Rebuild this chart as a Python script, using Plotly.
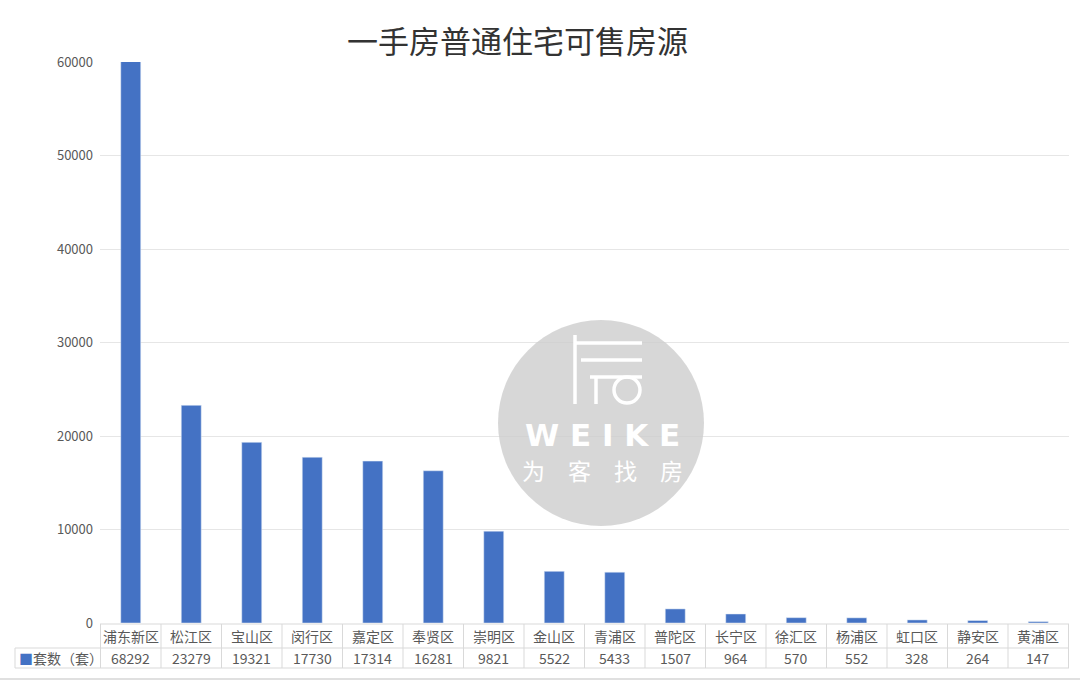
import plotly.graph_objects as go

# data
districts = ["浦东新区", "松江区", "宝山区", "闵行区", "嘉定区", "奉贤区", "崇明区", "金山区",
             "青浦区", "普陀区", "长宁区", "徐汇区", "杨浦区", "虹口区", "静安区", "黄浦区"]
units = [68292, 23279, 19321, 17730, 17314, 16281, 9821, 5522,
         5433, 1507, 964, 570, 552, 328, 264, 147]
series_name = "套数（套）"
title_text = "一手房普通住宅可售房源"
y_ticks = [0, 10000, 20000, 30000, 40000, 50000, 60000]

BLUE = "#4472C4"
GRID = "#e6e6e6"
LINE = "#d9d9d9"
TXT = "#595959"
FONT = "Noto Sans CJK SC"

W, H = 1080, 680
ML, MR, MT, MB = 100, 11, 62, 57
PW, PH = W - ML - MR, H - MT - MB


def px_x(p):
    # pixel -> paper x
    return (p - ML) / PW


def px_y(p):
    # pixel -> paper y
    return (H - MB - p) / PH


fig = go.Figure()
fig.add_trace(go.Bar(x=districts, y=units, marker_color=BLUE, name=series_name))

# title
fig.add_annotation(text=title_text, xref="paper", yref="paper", x=px_x(517), y=px_y(40),
                   xanchor="center", yanchor="middle", showarrow=False,
                   font=dict(family=FONT, size=31, color="#333333"))

# data table under the axis
row1, row2 = px_y(636), px_y(658)
for name, val in zip(districts, units):
    fig.add_annotation(text=name, x=name, xref="x", yref="paper", y=row1, showarrow=False,
                       xanchor="center", yanchor="middle",
                       font=dict(family=FONT, size=14, color=TXT))
    fig.add_annotation(text=str(val), x=name, xref="x", yref="paper", y=row2, showarrow=False,
                       xanchor="center", yanchor="middle",
                       font=dict(family=FONT, size=14, color=TXT))
fig.add_annotation(text="<span style='color:%s'>■</span>%s" % (BLUE, series_name),
                   xref="paper", yref="paper", x=px_x(17), y=row2, xanchor="left", yanchor="middle",
                   showarrow=False, font=dict(family=FONT, size=14, color=TXT))

t_top, t_mid, t_bot = px_y(624), px_y(648), px_y(668)
shapes = []
shapes.append(dict(type="line", xref="paper", yref="paper", x0=0, x1=1, y0=t_top, y1=t_top,
                   line=dict(color=LINE, width=1)))
for yy in (t_mid, t_bot):
    shapes.append(dict(type="line", xref="paper", yref="paper", x0=px_x(15), x1=1, y0=yy, y1=yy,
                       line=dict(color=LINE, width=1)))
for i in range(len(districts) + 1):
    shapes.append(dict(type="line", xref="x", yref="paper", x0=i - 0.5, x1=i - 0.5, y0=t_top, y1=t_bot,
                       line=dict(color=LINE, width=1)))
shapes.append(dict(type="line", xref="paper", yref="paper", x0=px_x(15), x1=px_x(15), y0=t_mid, y1=t_bot,
                   line=dict(color=LINE, width=1)))
# gray rule at very bottom of picture
shapes.append(dict(type="line", xref="paper", yref="paper", x0=px_x(0), x1=px_x(W), y0=px_y(679), y1=px_y(679),
                   line=dict(color="#e0e0e0", width=2)))

# watermark circle + logo
cx, cy, r = 601, 423, 103
shapes.append(dict(type="circle", xref="paper", yref="paper", x0=px_x(cx - r), x1=px_x(cx + r),
                   y0=px_y(cy + r), y1=px_y(cy - r), fillcolor="rgba(205,205,205,0.8)",
                   line=dict(width=0), layer="above"))
wm = dict(color="white", width=3.5)
logo_lines = [
    (575, 335, 575, 404),
    (575, 343, 642, 343),
    (581, 360, 642, 360),
    (590, 377, 642, 377),
    (596, 377, 596, 404),
]
for x0, y0, x1, y1 in logo_lines:
    shapes.append(dict(type="line", xref="paper", yref="paper", x0=px_x(x0), x1=px_x(x1),
                       y0=px_y(y0), y1=px_y(y1), line=wm, layer="above"))
shapes.append(dict(type="circle", xref="paper", yref="paper", x0=px_x(614), x1=px_x(640),
                   y0=px_y(403), y1=px_y(377), line=wm, layer="above"))
fig.add_annotation(text="<b>W E I K E</b>", xref="paper", yref="paper", x=px_x(602), y=px_y(435),
                   xanchor="center", yanchor="middle",
                   showarrow=False, font=dict(family="DejaVu Sans", size=31, color="white"))
fig.add_annotation(text="为　客　找　房", xref="paper", yref="paper", x=px_x(602), y=px_y(470),
                   xanchor="center", yanchor="middle",
                   showarrow=False, font=dict(family=FONT, size=23, color="white"))

fig.update_layout(
    width=W, height=H,
    margin=dict(l=ML, r=MR, t=MT, b=MB),
    plot_bgcolor="white", paper_bgcolor="white",
    showlegend=False, bargap=0.67,
    shapes=shapes,
    font=dict(family=FONT, color=TXT),
)
fig.update_xaxes(showticklabels=False, showgrid=False, zeroline=False, showline=False)
fig.update_yaxes(range=[0, 60000], tickvals=y_ticks, tickformat="d", showgrid=True, gridcolor=GRID,
                 zeroline=False, tickfont=dict(family=FONT, size=13, color=TXT), ticklabelstandoff=6)

fig.write_html("out.html", config={"displayModeBar": False},
               post_script="document.body.style.margin='0';")
